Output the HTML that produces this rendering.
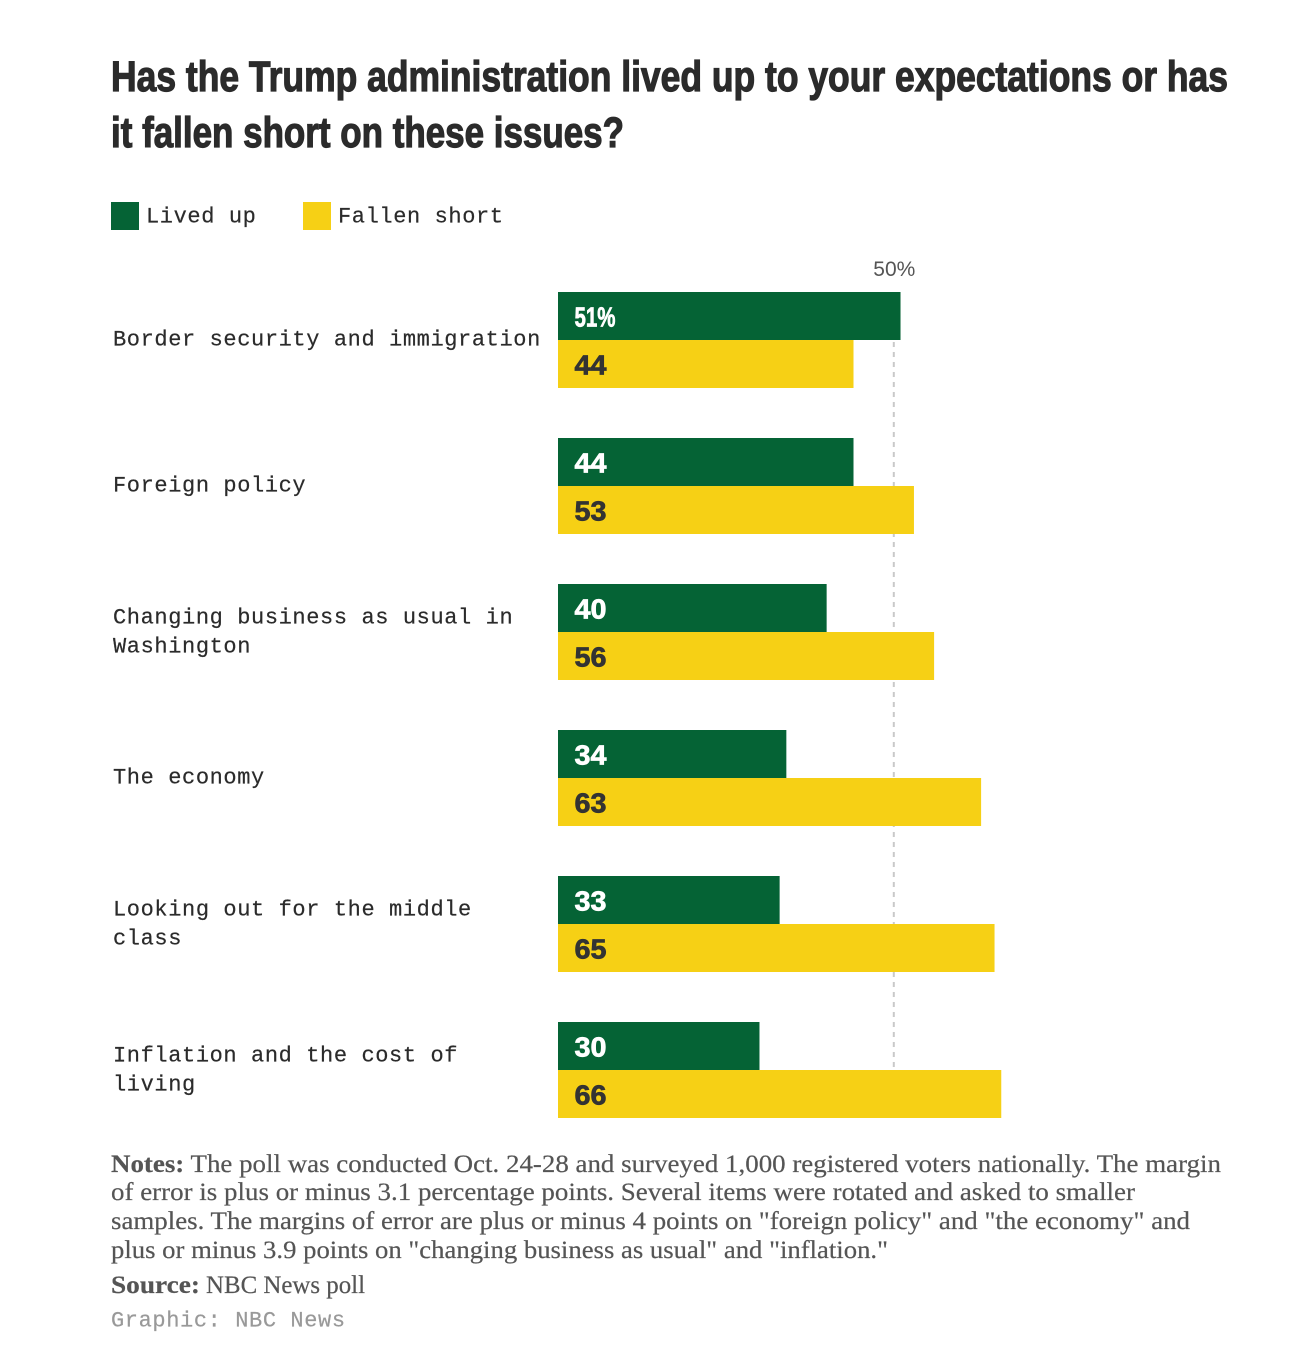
<!DOCTYPE html>
<html lang="en">
<head>
<meta charset="utf-8">
<title>Has the Trump administration lived up to your expectations</title>
<style>
html,body{margin:0;padding:0;background:#fff;width:1292px;height:1366px;overflow:hidden}
svg{display:block}
.title{font:bold 43px "Liberation Sans",sans-serif;fill:#2b2b2b;stroke:#2b2b2b;stroke-width:1.2}
.mono{font:22px "Liberation Mono",monospace;fill:#2b2b2b;letter-spacing:.6px;stroke:#2b2b2b;stroke-width:.2}
.note{font:25px "Liberation Serif",serif;fill:#555;stroke:#555;stroke-width:.2}
.val{font:bold 28px "Liberation Sans",sans-serif}
</style>
</head>
<body>
<svg id="chart" xmlns="http://www.w3.org/2000/svg" width="1292" height="1366" viewBox="0 0 1292 1366">
  <rect width="1292" height="1366" fill="#fff"/>
  <g>
    <text class="title" x="111" y="91" textLength="1117" lengthAdjust="spacingAndGlyphs">Has the Trump administration lived up to your expectations or has</text>
    <text class="title" x="111" y="147" textLength="513" lengthAdjust="spacingAndGlyphs">it fallen short on these issues?</text>
  </g>
  <g>
    <rect x="111" y="202" width="28" height="28" fill="#056335"/>
    <text class="mono" x="146" y="222.5">Lived up</text>
    <rect x="303" y="202" width="28" height="28" fill="#f6d015"/>
    <text class="mono" x="338" y="222.5">Fallen short</text>
  </g>
  <g id="plot"></g>
  <g>
    <text class="note" x="111" y="1172" textLength="1110" lengthAdjust="spacingAndGlyphs"><tspan font-weight="bold">Notes:</tspan> The poll was conducted Oct. 24-28 and surveyed 1,000 registered voters nationally. The margin</text>
    <text class="note" x="111" y="1200" textLength="1024" lengthAdjust="spacingAndGlyphs">of error is plus or minus 3.1 percentage points. Several items were rotated and asked to smaller</text>
    <text class="note" x="111" y="1229" textLength="1079" lengthAdjust="spacingAndGlyphs">samples. The margins of error are plus or minus 4 points on "foreign policy" and "the economy" and</text>
    <text class="note" x="111" y="1258" textLength="777" lengthAdjust="spacingAndGlyphs">plus or minus 3.9 points on "changing business as usual" and "inflation."</text>
    <text class="note" x="111" y="1293" font-weight="bold" textLength="89" lengthAdjust="spacingAndGlyphs" style="font-weight:bold">Source:</text>
    <text class="note" x="206" y="1293" textLength="159" lengthAdjust="spacingAndGlyphs">NBC News poll</text>
    <text class="mono" x="111" y="1326.5" style="fill:#999;stroke:#999">Graphic: NBC News</text>
  </g>
</svg>
<script>
const categories = ["Border security and immigration","Foreign policy","Changing business as usual in\nWashington","The economy","Looking out for the middle\nclass","Inflation and the cost of\nliving"];
const livedUp = [51,44,40,34,33,30];
const fallenShort = [44,53,56,63,65,66];
const tickValues = [50];
const tickLabels = ["50%"];

const NS = "http://www.w3.org/2000/svg";
const plot = document.getElementById("plot");
const X0 = 558, UNIT = 6.716, TOP = 292, STEP = 146, BAR = 48;
function xScale(v){ return X0 + v * UNIT; }
function bandY(i){ return TOP + i * STEP; }
function make(tag, attrs, parent){
  const el = document.createElementNS(NS, tag);
  for (const k in attrs) el.setAttribute(k, attrs[k]);
  parent.appendChild(el);
  return el;
}
const plotBottom = bandY(categories.length - 1) + BAR * 2;

tickValues.forEach(function(t, i){
  const line = make("line", {x1:xScale(t), x2:xScale(t), y1:TOP, y2:plotBottom, stroke:"#c9c9c9", "stroke-width":2, "stroke-dasharray":"5 5"}, plot);
  
  
  const label = make("text", {x:xScale(t)+0.5, y:276, "text-anchor":"middle", "font-family":"Liberation Sans, sans-serif", "font-size":21, fill:"#555"}, plot);
  label.textContent = tickLabels[i];
  
  
});

categories.forEach(function(cat, i){
  const top = bandY(i);
  const lines = cat.split("\n");
  const firstBase = lines.length === 1 ? top + 53.5 : top + 39.5;
  lines.forEach(function(ln, j){
    const t = make("text", {class:"mono", x:113, y:firstBase + j * 29}, plot);
    t.textContent = ln;
    
    
  });

  const a = make("rect", {x:X0, y:top, width:xScale(livedUp[i]) - X0, height:BAR, fill:"#056335"}, plot);
  
  
  const b = make("rect", {x:X0, y:top + BAR, width:xScale(fallenShort[i]) - X0, height:BAR, fill:"#f6d015"}, plot);
  
  

  const pct = i === 0;
  const va = make("text", {class:"val", x:574.5, y:top + 34.5, fill:"#fff", stroke:"#fff", "stroke-width":.7, textLength: pct ? 41 : 32, lengthAdjust:"spacingAndGlyphs"}, plot);
  va.textContent = livedUp[i] + (pct ? "%" : "");
  
  
  const vb = make("text", {class:"val", x:574.5, y:top + BAR + 34.5, fill:"#333", stroke:"#333", "stroke-width":.7, textLength:32, lengthAdjust:"spacingAndGlyphs"}, plot);
  vb.textContent = fallenShort[i];
  
  
});
</script>
</body>
</html>
